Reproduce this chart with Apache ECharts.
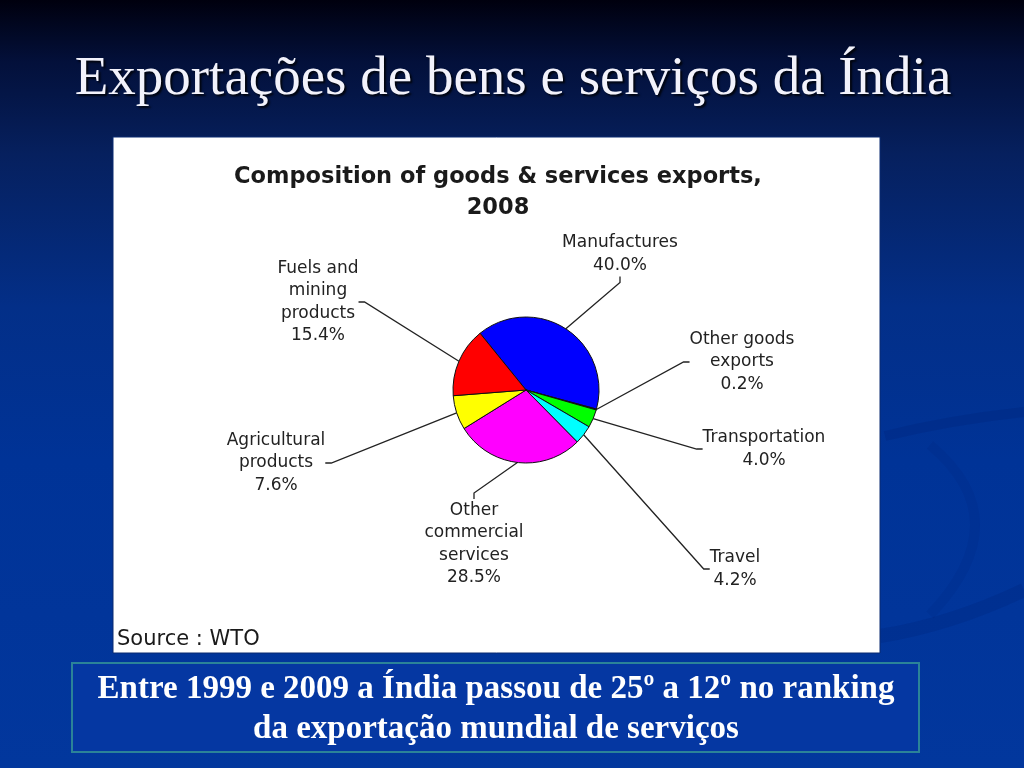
<!DOCTYPE html>
<html>
<head>
<meta charset="utf-8">
<script src="https://cdn.jsdelivr.net/npm/echarts@6/dist/echarts.min.js"></script>
<style>
html,body{margin:0;padding:0;width:1024px;height:768px;overflow:hidden;background:#001f6a;}
#c{width:1024px;height:768px;}
</style>
</head>
<body>
<div id="c"></div>
<script>
// ---- data ----
var categories = ['Manufactures', 'Other goods exports', 'Transportation', 'Travel', 'Other commercial services', 'Agricultural products', 'Fuels and mining products'];
var labelNames = ['Manufactures', 'Other goods\nexports', 'Transportation', 'Travel', 'Other\ncommercial\nservices', 'Agricultural\nproducts', 'Fuels and\nmining\nproducts'];
var shares = [40.0, 0.2, 4.0, 4.2, 28.5, 7.6, 15.4];
var sliceColors = ['#0000ff', '#000080', '#00ff00', '#00ffff', '#ff00ff', '#ffff00', '#ff0000'];
var slideTitle = 'Exportações de bens e serviços da Índia';
var chartTitle = 'Composition of goods & services exports,\n2008';
var sourceText = 'Source : WTO';
var noteText = 'Entre 1999 e 2009 a Índia passou de 25º a 12º no ranking\nda exportação mundial de serviços';

// ---- layout (label block centres) ----
var labelPos = [[620, 254], [742, 362], [764, 449], [735, 569], [474, 544], [276, 463], [318, 302]];

var chart = echarts.init(document.getElementById('c'), null, {renderer: 'canvas'});

var pieData = categories.map(function (c, i) {
  return {name: c, value: shares[i], itemStyle: {color: sliceColors[i]}};
});

var option = {
  animation: false,
  backgroundColor: new echarts.graphic.LinearGradient(0, 0, 0, 1, [
    {offset: 0, color: '#00000e'},
    {offset: 0.08, color: '#03103a'},
    {offset: 0.2, color: '#06205e'},
    {offset: 0.4, color: '#032f88'},
    {offset: 0.6, color: '#003397'},
    {offset: 1, color: '#02379d'}
  ]),
  title: [
    {
      text: slideTitle,
      left: 508, top: 47, textAlign: 'center',
      textStyle: {
        fontFamily: 'Liberation Serif', fontWeight: 'normal', fontSize: 55, color: '#f2f2fb',
        textShadowColor: 'rgba(0,0,0,0.8)', textShadowOffsetX: 2, textShadowOffsetY: 2, textShadowBlur: 2
      }
    },
    {
      text: chartTitle,
      left: 493, top: 157, textAlign: 'center',
      textStyle: {
        fontFamily: 'DejaVu Sans', fontWeight: 'bold', fontSize: 22.5, color: '#1a1a1a', lineHeight: 31
      }
    }
  ],
  graphic: [
    {
      type: 'bezierCurve', z: -10, silent: true,
      shape: {x1: 885, y1: 436, x2: 1024, y2: 412, cpx1: 950, cpy1: 420},
      style: {stroke: 'rgba(0,20,90,0.14)', lineWidth: 10, fill: null}
    },
    {
      type: 'bezierCurve', z: -10, silent: true,
      shape: {x1: 880, y1: 636, x2: 1024, y2: 590, cpx1: 950, cpy1: 625},
      style: {stroke: 'rgba(0,20,90,0.14)', lineWidth: 14, fill: null}
    },
    {
      type: 'bezierCurve', z: -10, silent: true,
      shape: {x1: 930, y1: 445, x2: 930, y2: 615, cpx1: 1020, cpy1: 520},
      style: {stroke: 'rgba(0,20,90,0.07)', lineWidth: 10, fill: null}
    },
    {
      type: 'rect', z: -5, silent: true,
      shape: {x: 113, y: 137, width: 767, height: 516},
      style: {fill: '#ffffff', stroke: '#0a2a70', lineWidth: 1}
    },
    {
      type: 'text', silent: true,
      x: 117, y: 640,
      style: {text: sourceText, font: '21px "DejaVu Sans"', fill: '#1a1a1a', textVerticalAlign: 'middle'}
    },
    {
      type: 'rect', silent: true,
      shape: {x: 72, y: 663, width: 847, height: 89},
      style: {fill: '#0537a2', stroke: '#2b8398', lineWidth: 2}
    },
    {
      type: 'text', silent: true,
      x: 496, y: 709,
      style: {
        text: noteText, font: 'bold 33px "Liberation Serif"', fill: '#ffffff',
        textAlign: 'center', textVerticalAlign: 'middle', lineHeight: 40
      }
    }
  ],
  series: [{
    type: 'pie',
    center: [526, 390],
    radius: 73,
    startAngle: 129,
    clockwise: true,
    avoidLabelOverlap: false,
    data: pieData,
    itemStyle: {borderColor: '#111', borderWidth: 1},
    label: {
      show: true,
      position: 'outside',
      formatter: function (p) { return labelNames[p.dataIndex] + '\n' + p.value.toFixed(1) + '%'; },
      fontFamily: 'DejaVu Sans', fontSize: 17, color: '#222', lineHeight: 22.5, align: 'center'
    },
    labelLine: {show: true, length: 20, length2: 6, lineStyle: {color: '#222', width: 1.3}},
    labelLayout: function (params) {
      var p = labelPos[params.dataIndex];
      return {x: p[0], y: p[1], align: 'center', verticalAlign: 'middle'};
    },
    emphasis: {disabled: true}
  }]
};
chart.setOption(option);
</script>
</body>
</html>
